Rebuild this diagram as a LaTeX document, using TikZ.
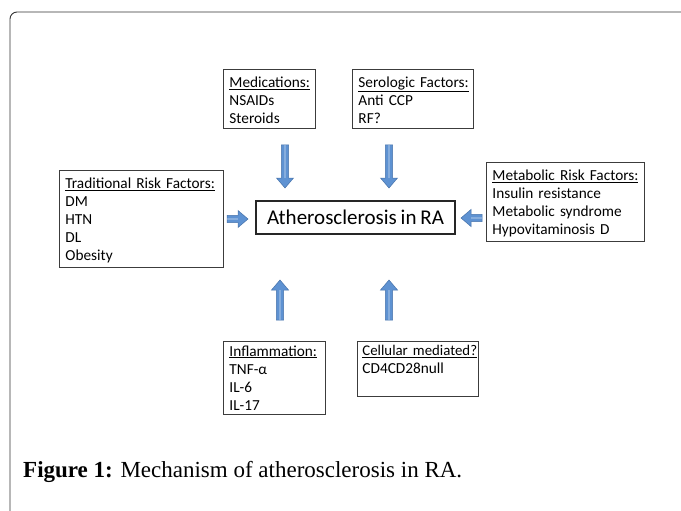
\documentclass[tikz,border=0pt]{standalone}
\usepackage{fontspec}
\setmainfont{Carlito}
\newfontfamily\boxfont[WordSpace=0.8]{Carlito}
\newfontfamily\capfont{Liberation Serif}
\usetikzlibrary{calc}
\definecolor{arrfill}{RGB}{94,146,210}
\definecolor{arrline}{RGB}{70,114,170}
\definecolor{boxline}{RGB}{60,60,60}
\newcommand\hd[1]{\rule{0pt}{13.5pt}\underline{#1}}
\tikzset{
  infobox/.style={draw=boxline, line width=0.9pt, anchor=north west, align=left,
    inner xsep=6pt, inner ysep=4.5pt, font=\boxfont\fontsize{15.3}{18}\selectfont},
  mainbox/.style={draw=black!85, line width=1.4pt, minimum width=199pt, minimum height=33pt,
    inner sep=0pt, font=\boxfont\fontsize{21}{24}\selectfont},
  pics/barrow/.style={code={
    \fill[arrfill, draw=arrline, line width=0.5pt]
      (0,-3.7)--(#1-10,-3.7)--(#1-10,-8.5)--(#1,0)--(#1-10,8.5)--(#1-10,3.7)--(0,3.7)--cycle;
    \fill[white, opacity=0.25] (0,-1.2)--(#1-10,-1.2)--(#1-10,1.2)--(0,1.2)--cycle;
  }}
}
\begin{document}
\begin{tikzpicture}[x=1pt,y=-1pt]
\useasboundingbox (0,0) rectangle (681,511);
% outer frame
\draw[black!80, line width=0.9pt, rounded corners=7pt] (10,520) -- (10,12) -- (690,12);

% boxes
\node[infobox, text width=80pt] (med) at (223,69)
  {\hd{Medications:}\\NSAIDs\\Steroids};
\node[infobox, text width=109pt] (sero) at (352,69)
  {\hd{Serologic Factors:}\\Anti CCP\\RF?};
\node[infobox, text width=152pt] (trad) at (59,170)
  {\hd{Traditional Risk Factors:}\\DM\\HTN\\DL\\Obesity};
\node[infobox, text width=146pt] (meta) at (486,162)
  {\hd{Metabolic Risk Factors:}\\Insulin resistance\\Metabolic syndrome\\Hypovitaminosis D};
\node[infobox, inner ysep=4pt, text width=90pt] (infl) at (223,341)
  {\underline{Inflammation:}\\TNF-α\\IL-6\\IL-17};
\node[infobox, inner ysep=4pt, inner xsep=5pt, text width=111pt] (cell) at (357,341)
  {\underline{\fontsize{14.8}{18}\selectfont Cellular mediated?}\\CD4CD28null\\\rule[-1pt]{0pt}{0pt}};
\node[mainbox] (ath) at (355.5,217.5) {Atherosclerosis in RA};

% block arrows
\pic[rotate=-90] at (285,145) {barrow=43};
\pic[rotate=-90] at (389,145) {barrow=43};
\pic[rotate=90] at (280,320) {barrow=40};
\pic[rotate=90] at (389,320) {barrow=40};
\pic at (227,219) {barrow=21};
\pic[rotate=180] at (482,218) {barrow=21};

% caption
\node[anchor=base west, inner sep=0pt, font=\capfont\fontsize{23}{26}\selectfont] (cap) at (23,477)
  {\textbf{Figure 1:} Mechanism of atherosclerosis in RA.};
\end{tikzpicture}
\end{document}
